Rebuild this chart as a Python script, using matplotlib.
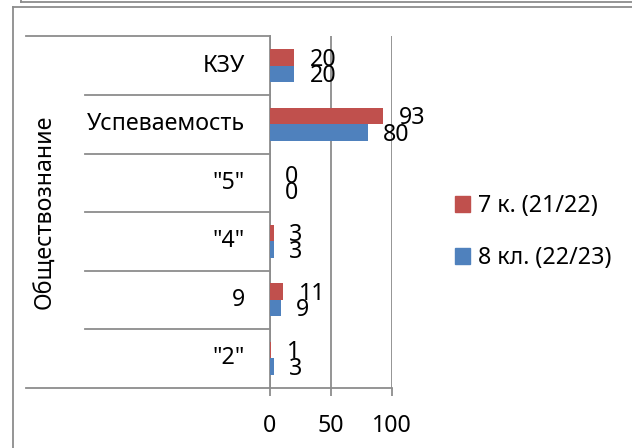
import matplotlib.pyplot as plt
from matplotlib.lines import Line2D
from matplotlib.patches import Patch

plt.rcParams['font.family'] = ['Noto Sans', 'DejaVu Sans']

# данные
categorias = ['"2"', '9', '"4"', '"5"', 'Успеваемость', 'КЗУ']
serie_7 = [1, 11, 3, 0, 93, 20]
serie_8 = [3, 9, 3, 0, 80, 20]
nombre_7 = '7 к. (21/22)'
nombre_8 = '8 кл. (22/23)'
grupo = 'Обществознание'

rojo = '#C0504D'
azul = '#4F81BD'
gris = '#8C8C8C'
W, H = 632, 448
fs = 16.7

fig = plt.figure(figsize=(W / 100, H / 100), dpi=100)

# area del grafico
x0, x1 = 270, 392
ytop, ybot = 36.5, 387.5
ax = fig.add_axes([x0 / W, 1 - ybot / H, (x1 - x0) / W, (ybot - ytop) / H])

pos = list(range(len(categorias)))
alto = 0.28
ax.barh([p + alto / 2 for p in pos], serie_7, height=alto, color=rojo, zorder=3)
ax.barh([p - alto / 2 for p in pos], serie_8, height=alto, color=azul, zorder=3)

for p, v in zip(pos, serie_7):
    ax.annotate(str(v), (v, p + alto / 2), xytext=(11, -1.5), textcoords='offset points',
                ha='left', va='center', fontsize=fs, zorder=4)
for p, v in zip(pos, serie_8):
    ax.annotate(str(v), (v, p - alto / 2), xytext=(11, -1.5), textcoords='offset points',
                ha='left', va='center', fontsize=fs, zorder=4)

ax.set_xlim(0, 100)
ax.set_ylim(-0.5, len(categorias) - 0.5)
ax.set_xticks([0, 50, 100])
ax.set_yticks([])
ax.grid(axis='x', color=gris, linewidth=1.3, zorder=1)
for s in ['top', 'right']:
    ax.spines[s].set_visible(False)
ax.spines['left'].set_color(gris)
ax.spines['left'].set_linewidth(1.3)
ax.spines['bottom'].set_color(gris)
ax.spines['bottom'].set_linewidth(1.3)
ax.tick_params(axis='x', length=6, width=1.3, color=gris, labelsize=fs, pad=13)

# tabla de categorias a la izquierda
paso = (ybot - ytop) / len(categorias)
lineas = [([26, 270], [ytop, ytop]), ([26, 270], [ybot, ybot])]
for i in range(1, len(categorias)):
    y = ytop + i * paso
    lineas.append(([85, 270], [y, y]))
for xs, ys in lineas:
    fig.add_artist(Line2D([xs[0] / W, xs[1] / W], [1 - ys[0] / H, 1 - ys[1] / H],
                          color=gris, linewidth=1.3))

for i, c in enumerate(reversed(categorias)):
    y = ytop + (i + 0.5) * paso
    fig.text(245 / W, 1 - y / H, c, ha='right', va='center', fontsize=fs)

fig.text(45 / W, 1 - 212 / H, grupo, rotation=90, ha='center', va='center', fontsize=fs)

# marcos
fig.add_artist(Line2D([12.5 / W, 12.5 / W], [0, 1 - 7.5 / H], color=gris, linewidth=1.3))
fig.add_artist(Line2D([12.5 / W, 1], [1 - 7.5 / H, 1 - 7.5 / H], color=gris, linewidth=1.3))
fig.add_artist(Line2D([21 / W, 1], [1 - 2.5 / H, 1 - 2.5 / H], color=gris, linewidth=1.3))
fig.add_artist(Line2D([21 / W, 21 / W], [1 - 2.5 / H, 1], color=gris, linewidth=1.3))

manijas = [Patch(color=rojo), Patch(color=azul)]
fig.legend(manijas, [nombre_7, nombre_8], loc='center left',
           bbox_to_anchor=(434 / W, 1 - 232 / H), frameon=False, fontsize=fs,
           handlelength=0.65, handleheight=0.65, handletextpad=0.35, labelspacing=1.2)

fig.savefig('out.png', dpi=100)
